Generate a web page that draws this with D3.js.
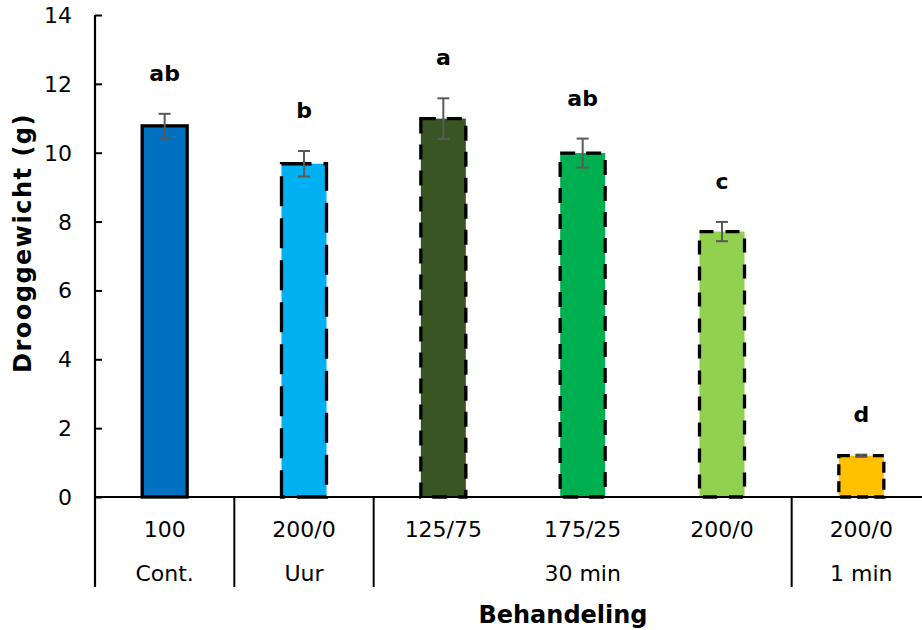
<!DOCTYPE html>
<html>
<head>
<meta charset="utf-8">
<script src="https://cdn.jsdelivr.net/npm/d3@7"></script>
<style>
  body { margin: 0; background: #fff; }
  svg { font-family: Verdana, "DejaVu Sans", sans-serif; }
  .tick-label { font-size: 22px; fill: #000; }
  .cat-label { font-size: 22px; fill: #000; text-anchor: middle; }
  .axis-title { font-size: 24px; font-weight: bold; fill: #000; text-anchor: middle; }
  .sig { font-size: 22px; font-weight: bold; fill: #000; text-anchor: middle; }
</style>
</head>
<body>
<svg width="922" height="630"></svg>
<script>
// treatments
const CATEGORIES = ['100', '200/0', '125/75', '175/25', '200/0', '200/0'];
const GROUPS = [
    { name: 'Cont.',  from: 0, to: 1 },
    { name: 'Uur',    from: 1, to: 2 },
    { name: '30 min', from: 2, to: 5 },
    { name: '1 min',  from: 5, to: 6 },
];
const VALUES = [10.78, 9.68, 10.99, 9.99, 7.71, 1.20];
const ERRORS = [0.35, 0.37, 0.59, 0.42, 0.28, 0.03];
const LETTERS = ['ab', 'b', 'a', 'ab', 'c', 'd'];
const Y_TICKS = [0, 2, 4, 6, 8, 10, 12, 14];

const COLORS = ['#0070C0', '#00B0F0', '#375623', '#00B050', '#92D050', '#FFC000'];
const DASHES = [null, '30,12', '15,11', '15,11', '14,12', '11,6'];

const PARAMS = {
    left: 95,
    right: 931,
    top: 15,
    bottom: 497,
    groupBottom: 587,
};

const svg = d3.select('svg');

const x = d3.scaleBand()
    .domain(d3.range(CATEGORIES.length))
    .range([PARAMS.left, PARAMS.right])
    .paddingInner(0.677)
    .paddingOuter(0.677 / 2);

const y = d3.scaleLinear()
    .domain([0, 14])
    .range([PARAMS.bottom, PARAMS.top]);

// y axis, ticks pointing into the plot
const yAxis = svg.append('g')
    .attr('transform', `translate(${PARAMS.left},0)`)
    .call(d3.axisRight(y).tickValues(Y_TICKS).tickSize(7).tickFormat(''));
yAxis.select('.domain').remove();
yAxis.selectAll('.tick line').attr('stroke', '#000').attr('stroke-width', 2);

svg.append('line')
    .attr('x1', PARAMS.left).attr('x2', PARAMS.left)
    .attr('y1', y(14)).attr('y2', PARAMS.groupBottom)
    .attr('stroke', '#000').attr('stroke-width', 2.2);

svg.selectAll('.tick-label')
    .data(Y_TICKS)
    .enter()
    .append('text')
    .classed('tick-label', true)
    .attr('x', 72)
    .attr('y', d => y(d) + 8)
    .attr('text-anchor', 'end')
    .text(d => d);

// bars
svg.selectAll('.bar')
    .data(VALUES)
    .enter()
    .append('rect')
    .classed('bar', true)
    .attr('x', (d, i) => x(i))
    .attr('y', d => y(d))
    .attr('width', x.bandwidth())
    .attr('height', d => y(0) - y(d))
    .attr('fill', (d, i) => COLORS[i])
    .attr('stroke', '#000')
    .attr('stroke-width', 3.3)
    .attr('stroke-dasharray', (d, i) => DASHES[i]);

// x axis line
svg.append('line')
    .attr('x1', PARAMS.left).attr('x2', 922)
    .attr('y1', y(0)).attr('y2', y(0))
    .attr('stroke', '#000').attr('stroke-width', 2);

// error bars
const cx = i => x(i) + x.bandwidth() / 2;
const errG = svg.selectAll('.err')
    .data(VALUES)
    .enter()
    .append('g')
    .classed('err', true)
    .attr('stroke', '#595959')
    .attr('stroke-width', 2);
errG.append('line')
    .attr('x1', (d, i) => cx(i)).attr('x2', (d, i) => cx(i))
    .attr('y1', (d, i) => y(d + ERRORS[i])).attr('y2', (d, i) => y(d - ERRORS[i]));
errG.append('line')
    .attr('x1', (d, i) => cx(i) - 6).attr('x2', (d, i) => cx(i) + 6)
    .attr('y1', (d, i) => y(d + ERRORS[i])).attr('y2', (d, i) => y(d + ERRORS[i]));
errG.append('line')
    .attr('x1', (d, i) => cx(i) - 6).attr('x2', (d, i) => cx(i) + 6)
    .attr('y1', (d, i) => y(d - ERRORS[i])).attr('y2', (d, i) => y(d - ERRORS[i]));

// significance letters
svg.selectAll('.sig')
    .data(LETTERS)
    .enter()
    .append('text')
    .classed('sig', true)
    .attr('x', (d, i) => cx(i))
    .attr('y', (d, i) => y(VALUES[i] + ERRORS[i]) - 33)
    .text(d => d);

// category labels
svg.selectAll('.cat-label')
    .data(CATEGORIES)
    .enter()
    .append('text')
    .classed('cat-label', true)
    .attr('x', (d, i) => cx(i))
    .attr('y', 537)
    .text(d => d);

// group separators and names
const edge = i => PARAMS.left + i * x.step();
svg.selectAll('.sep')
    .data(GROUPS.slice(1))
    .enter()
    .append('line')
    .classed('sep', true)
    .attr('x1', g => edge(g.from)).attr('x2', g => edge(g.from))
    .attr('y1', y(0)).attr('y2', PARAMS.groupBottom)
    .attr('stroke', '#000').attr('stroke-width', 2);

svg.selectAll('.group-label')
    .data(GROUPS)
    .enter()
    .append('text')
    .classed('cat-label', true)
    .attr('x', g => (edge(g.from) + edge(g.to)) / 2)
    .attr('y', 581)
    .text(g => g.name);

// axis titles
svg.append('text')
    .classed('axis-title', true)
    .attr('x', 563)
    .attr('y', 623)
    .text('Behandeling');

svg.append('text')
    .classed('axis-title', true)
    .attr('transform', 'translate(31,243) rotate(-90)')
    .attr('letter-spacing', 1.5)
    .text('Drooggewicht (g)');
</script>
</body>
</html>
